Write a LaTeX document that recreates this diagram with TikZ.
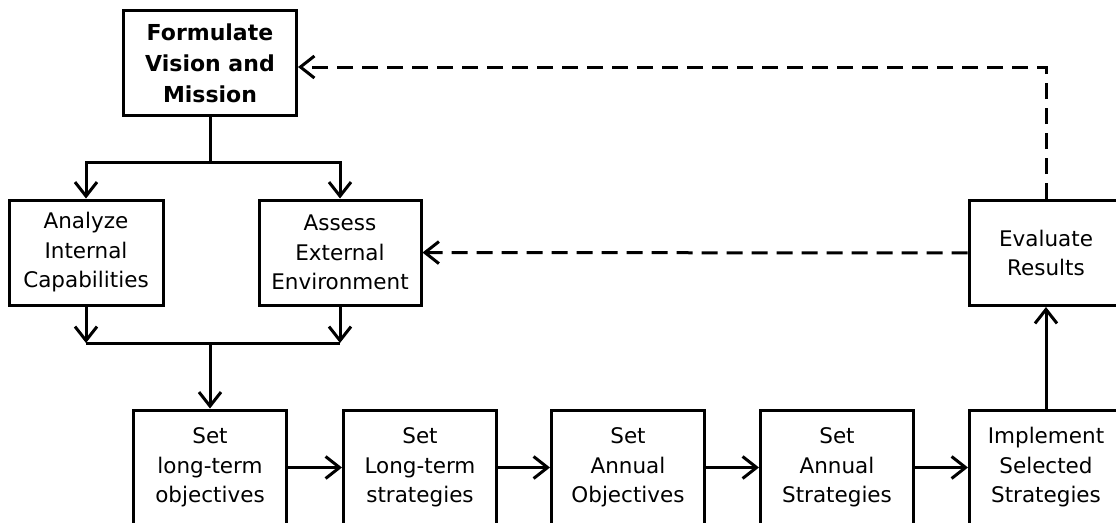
\documentclass[tikz,border=0pt]{standalone}
\usepackage{fontspec}
\setmainfont{DejaVu Sans}
\usetikzlibrary{arrows.meta,calc,positioning}
\tikzset{>={Straight Barb[length=14pt,width=22pt]},
  every node/.style={font=\fontsize{21.5}{29.5}\selectfont},
  stepbox/.style={draw,line width=3pt,align=center,inner sep=0pt,
    minimum width=153pt,minimum height=105pt},
  lowbox/.style={stepbox,minimum height=115pt},
  link/.style={->},
  feedback/.style={->,dash pattern=on 16pt off 9pt}}

\begin{document}
\begin{tikzpicture}[x=1pt,y=-1pt,line width=3pt]
\useasboundingbox (0,0) rectangle (1116,522);
% upper part
\node[stepbox,minimum width=173pt,font=\fontsize{22}{31}\selectfont\bfseries] (form) at (210,63) {Formulate\\Vision and\\Mission};
\node[stepbox,minimum width=154pt] (anl) at (86,252.5) {Analyze\\Internal\\Capabilities};
\node[stepbox,minimum width=162pt] (ass) at (340,252.5) {Assess\\External\\Environment};
\node[stepbox,minimum width=154pt] (eval) at (1046,253) {Evaluate\\Results};
% lower row
\foreach \n/\x/\t in {s1/210/Set\\long-term\\objectives,s2/420/Set\\Long-term\\strategies,
  s3/628/Set\\Annual\\Objectives,s4/837/Set\\Annual\\Strategies,
  s5/1046/Implement\\Selected\\Strategies}
  \node[lowbox] (\n) at (\x,467.5) {\t};
\coordinate (split) at (210,162);
\coordinate (join) at (210,343);
\draw (form) -- (split);
\draw[link] (split) -| (anl);
\draw[link] (split) -| (ass);
\draw[link] (anl) -- (anl |- join);
\draw[link] (ass) -- (ass |- join);
\draw (anl |- join) -- (ass |- join);
\draw[link] (join) -- (s1);
\foreach \a/\b in {s1/s2,s2/s3,s3/s4,s4/s5}
  \draw[link] (\a) -- (\b);
\draw[link] (s5) -- (eval);
\draw[feedback] (eval) -- (ass);
\draw[feedback] (eval.north) |- ($(form.east)+(0,4)$);
\end{tikzpicture}
\end{document}
